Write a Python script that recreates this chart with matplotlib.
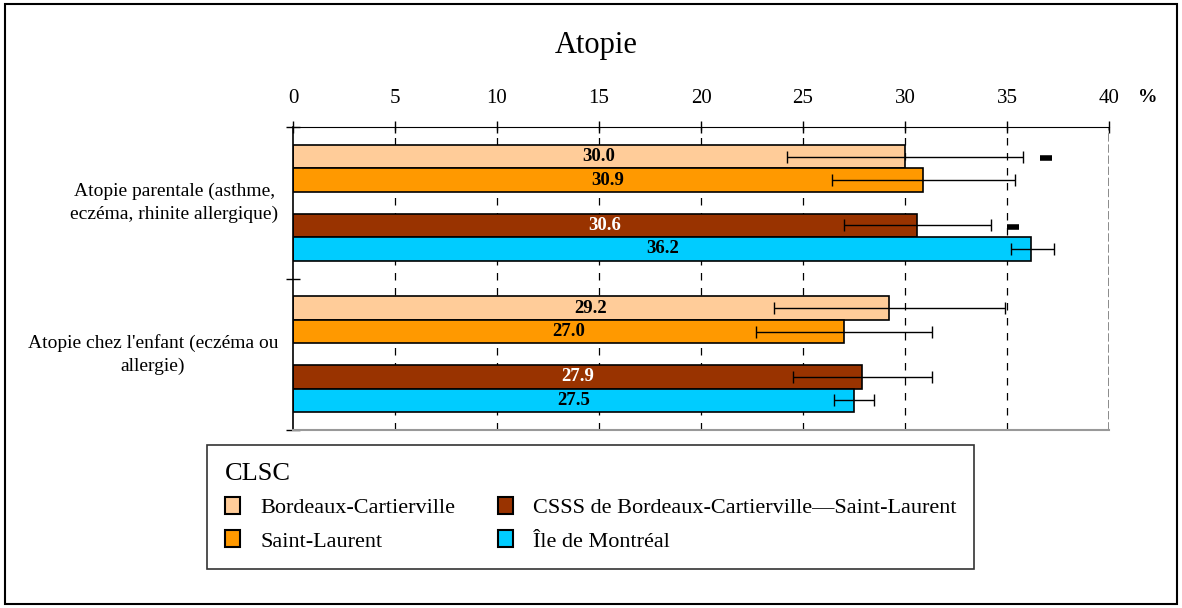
import numpy as np
import matplotlib
matplotlib.use("Agg")
import matplotlib.pyplot as plt
from matplotlib.patches import Rectangle, Patch

plt.rcParams['font.family'] = ['Liberation Serif', 'DejaVu Serif']

# données
categories = ["Atopie parentale (asthme,\neczéma, rhinite allergique)",
              "Atopie chez l'enfant (eczéma ou\nallergie)"]
series = ["Bordeaux-Cartierville", "Saint-Laurent",
          "CSSS de Bordeaux-Cartierville\u2014Saint-Laurent", "Île de Montréal"]
bordeaux = [30.0, 29.2]
saint_laurent = [30.9, 27.0]
csss = [30.6, 27.9]
montreal = [36.2, 27.5]
ci_bas = [[24.2, 23.6], [26.4, 22.7], [27.0, 24.5], [35.2, 26.5]]
ci_haut = [[35.8, 34.9], [35.4, 31.3], [34.2, 31.3], [37.3, 28.5]]
signif = [[True, False], [False, False], [True, False], [False, False]]
x_ticks = [0, 5, 10, 15, 20, 25, 30, 35, 40]

couleurs = ['#FFCC99', '#FF9900', '#993300', '#00CCFF']
couleurs_txt = ['black', 'black', 'white', 'black']
valeurs = [bordeaux, saint_laurent, csss, montreal]

fig = plt.figure(figsize=(11.82, 6.08), dpi=100)
ax = fig.add_axes([293 / 1182, 1 - 430 / 608, 816 / 1182, 303 / 608])

centres = np.arange(len(categories)) + 0.5
decalages = [-0.305, -0.15, 0.15, 0.305]
h = 0.155

for i, vals in enumerate(valeurs):
    y = centres + decalages[i]
    ax.barh(y, vals, height=h, color=couleurs[i], edgecolor='black',
            linewidth=1.2, zorder=2, label=series[i])
    lo = np.array(vals) - np.array(ci_bas[i])
    hi = np.array(ci_haut[i]) - np.array(vals)
    ax.errorbar(vals, y, xerr=[lo, hi], fmt='none', ecolor='black',
                elinewidth=1, capsize=4.5, capthick=1, zorder=3)
    for j, v in enumerate(vals):
        ax.text(v / 2, y[j], f"{v:.1f}", ha='center', va='center',
                fontsize=13.5, fontweight='bold', color=couleurs_txt[i], zorder=4)
        if signif[i][j]:
            ax.plot(ci_haut[i][j] + 1.1, y[j] + 0.01, marker='_', ms=8, mew=4,
                    color='black', zorder=4)

ax.set_xlim(0, 40)
ax.set_ylim(2, 0)
ax.xaxis.tick_top()
ax.set_xticks(x_ticks)
ax.set_xticklabels([str(t) for t in x_ticks], fontsize=15)
ax.tick_params(axis='x', direction='inout', length=8, pad=9.5, width=1)
ax.set_yticks([0, 1, 2])
ax.set_yticklabels([])
ax.tick_params(axis='y', direction='inout', length=10, width=1)

for t in x_ticks[1:-1]:
    ax.axvline(t, color='black', linewidth=0.9, linestyle=(0, (6, 6)), zorder=1)
ax.axvline(40, color='#808080', linewidth=2, linestyle=(0, (3, 1)), zorder=1)

ax.spines['top'].set_color('black')
ax.spines['left'].set_color('black')
ax.spines['left'].set_linewidth(1.2)
ax.spines['bottom'].set_color('#999999')
ax.spines['bottom'].set_linewidth(1.5)
ax.spines['right'].set_visible(False)

for c, lab in zip(centres, categories):
    ax.text(-0.018, c, lab, transform=ax.get_yaxis_transform(), ha='right',
            va='center', multialignment='center', fontsize=14, linespacing=1.4)

ax.text(1148 / 1182, 1 - 97 / 608, "%", transform=fig.transFigure,
        ha='center', va='center', fontsize=14, fontweight='bold')
fig.text(596 / 1182, 1 - 45 / 608, "Atopie", ha='center', va='center', fontsize=22)

handles = [Patch(facecolor=c, edgecolor='black', linewidth=1.5) for c in couleurs]
leg = fig.legend(handles, series, loc='upper left',
                 bbox_to_anchor=(207 / 1182, 1 - 445 / 608), ncol=2,
                 title="CLSC", title_fontsize=19, fontsize=16,
                 alignment='left', frameon=True, fancybox=False,
                 edgecolor='black', handlelength=0.7, handleheight=0.8,
                 handletextpad=0.9, columnspacing=1.9, labelspacing=0.55,
                 borderpad=0.8, borderaxespad=0)
leg.get_frame().set_linewidth(1.2)

fig.patches.append(Rectangle((5 / 1182, 4 / 608), 1172 / 1182, 600 / 608,
                             transform=fig.transFigure, fill=False,
                             edgecolor='black', linewidth=1.5))

fig.savefig("out.png", dpi=100)
